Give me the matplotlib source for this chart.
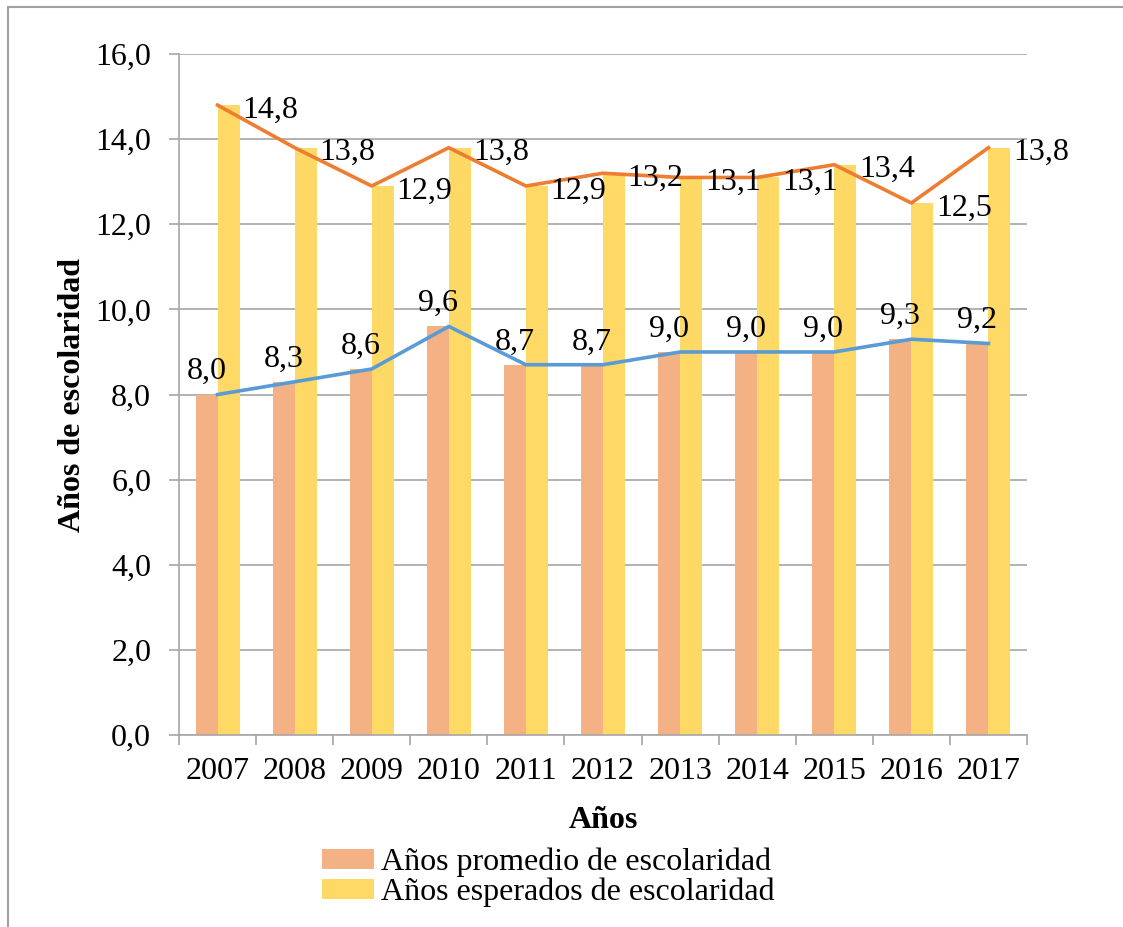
#!/usr/bin/env python

import numpy as np
import matplotlib.pyplot as plt
from matplotlib.patches import Rectangle

plt.rcParams.update(
    {
        "font.family": "Liberation Serif",
        "font.size": 23,
    }
)

years = ["2007", "2008", "2009", "2010", "2011", "2012",
         "2013", "2014", "2015", "2016", "2017"]
promedio = [8.0, 8.3, 8.6, 9.6, 8.7, 8.7, 9.0, 9.0, 9.0, 9.3, 9.2]
esperados = [14.8, 13.8, 12.9, 13.8, 12.9, 13.2, 13.1, 13.1, 13.4, 12.5, 13.8]
yticks = [0, 2, 4, 6, 8, 10, 12, 14, 16]

c_bar_prom = "#F4B183"
c_bar_esp = "#FFD966"
c_line_prom = "#5B9BD5"
c_line_esp = "#ED7D31"
c_grid = "#A6A6A6"

fig = plt.figure(figsize=(11.23, 9.27), dpi=100)
ax = fig.add_axes([0.1594, 0.2071, 0.7551, 0.7346])

x = np.arange(len(years))
w = 0.285
ax.bar(x - w/2, promedio, w, color=c_bar_prom, label="Años promedio de escolaridad", zorder=2)
ax.bar(x + w/2, esperados, w, color=c_bar_esp, label="Años esperados de escolaridad", zorder=2)
ax.plot(x, promedio, color=c_line_prom, lw=2.6, zorder=3)
ax.plot(x, esperados, color=c_line_esp, lw=2.6, zorder=3)

fmt = lambda v: f"{v:.1f}".replace(".", ",")
for i in x:
    ax.annotate(fmt(promedio[i]), (i - w/2, promedio[i]), xytext=(0, 11),
                textcoords="offset points", ha="center", va="baseline", zorder=4)
    ax.annotate(fmt(esperados[i]), (i + w, esperados[i]), xytext=(2, -1),
                textcoords="offset points", ha="left", va="center_baseline", zorder=4)

ax.set_xlim(-0.5, len(years) - 0.5)
ax.set_ylim(0, 16)
ax.set_yticks(yticks)
ax.set_yticklabels([fmt(v) for v in yticks])
ax.set_xticks(x)
ax.set_xticklabels(years)
ax.set_xticks(np.arange(-0.5, len(years)), minor=True)
ax.tick_params(axis="x", which="major", length=0, pad=16)
ax.tick_params(axis="x", which="minor", length=7, color=c_grid, width=1.2, direction="out")
ax.tick_params(axis="y", length=7, color=c_grid, width=1.2, pad=13)

ax.grid(axis="y", color=c_grid, lw=1.2, zorder=0)
for s in ["top", "right"]:
    ax.spines[s].set_visible(False)
for s in ["left", "bottom"]:
    ax.spines[s].set_color(c_grid)
    ax.spines[s].set_linewidth(1.2)

ax.set_xlabel("Años", fontweight="bold", labelpad=14)
ax.set_ylabel("Años de escolaridad", fontweight="bold", labelpad=6)

ax.legend(loc="upper center", bbox_to_anchor=(0.435, -0.142), frameon=False,
          handlelength=1.65, handleheight=0.55, handletextpad=0.2,
          labelspacing=0.02, borderpad=0)

fig.patches.append(Rectangle((8/1123, -0.1), 1.2, 1 - 7/927 + 0.1,
                             transform=fig.transFigure, fill=False,
                             edgecolor="#A0A0A0", lw=1.5))

plt.savefig("out.png")
